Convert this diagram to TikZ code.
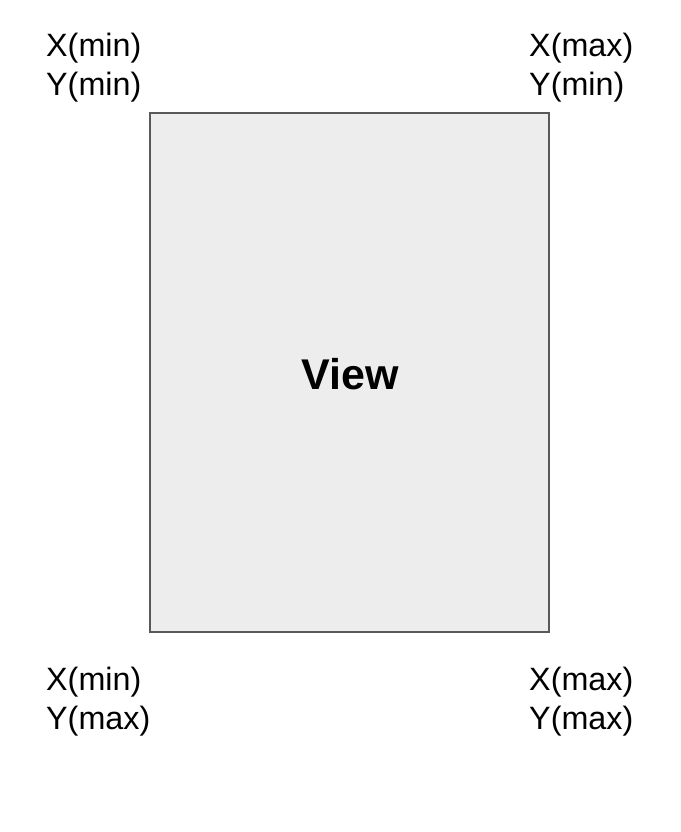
\documentclass[tikz,border=0pt]{standalone}
\usepackage{fontspec}
\setmainfont{Liberation Sans}
\begin{document}
\begin{tikzpicture}[x=1pt,y=-1pt,
  lbl/.style={anchor=base west,inner sep=0pt,font=\fontsize{32.3}{38}\selectfont},
  viewbox/.style={draw=black!65,fill=black!7,line width=2pt}]
\useasboundingbox (0,0) rectangle (680,832);
\draw[viewbox] (150,113) rectangle (549,632);
\node[inner sep=0pt,font=\fontsize{43}{48}\selectfont\bfseries] (view) at (350,374) {View};
\node[lbl] (tlx) at (46,57) {X(min)};
\node[lbl] (tly) at (46,96) {Y(min)};
\node[lbl] (trx) at (529,57) {X(max)};
\node[lbl] (try) at (529,96) {Y(min)};
\node[lbl] (blx) at (46,690) {X(min)};
\node[lbl] (bly) at (46,729) {Y(max)};
\node[lbl] (brx) at (529,690) {X(max)};
\node[lbl] (bry) at (529,729) {Y(max)};
\end{tikzpicture}
\end{document}
